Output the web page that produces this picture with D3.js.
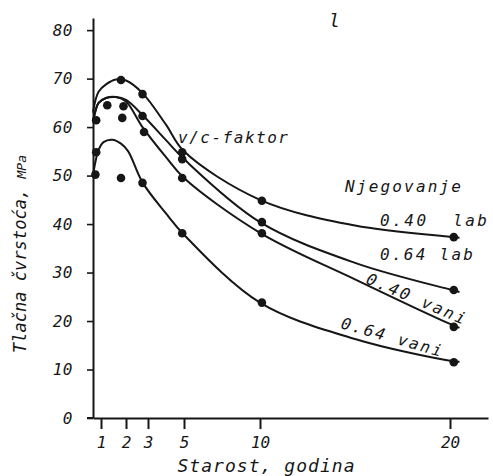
<!DOCTYPE html>
<html>
<head>
<meta charset="utf-8">
<script src="https://cdn.jsdelivr.net/npm/d3@7"></script>
<style>
  body { margin: 0; background: #fff; }
  text { font-family: "DejaVu Sans Mono", monospace; font-style: oblique; fill: #161616; }
</style>
</head>
<body>
<div id="chart"></div>
<script>
// tick labels
const xTicks = [1, 2, 3, 5, 10, 20]
const yTicks = [0, 10, 20, 30, 40, 50, 60, 70, 80]

// fitted curves: age (years) and strength (MPa)
const curveAges = [0, 0.3, 0.7, 1.2, 1.6, 2.0, 2.75, 4, 5, 10, 15, 20, 20.5]
const fitLab40  = [63, 65.5, 67.3, 68.8, 69.8, 69.6, 67, 60.5, 55, 45, 39.7, 37.4, 37.2]
const fitLab64  = [61, 63.3, 65, 66, 66.2, 65.6, 62.5, 57.3, 53.4, 40.4, 32, 26.5, 26]
const fitVani40 = [61, 63.3, 65, 66, 66.2, 65.3, 60, 53.8, 49.5, 38.2, 28.6, 19.4, 18.6]
const vaniAges  = [0, 0.3, 0.7, 1.1, 1.45, 1.8, 2.1, 2.75, 4, 5, 10, 15, 20, 20.5]
const fitVani64 = [50, 52.8, 55.3, 56.9, 57.4, 56.6, 55, 48.6, 42.2, 37.8, 23.8, 16.3, 11.8, 11.6]

// measured points
const ptLab40Age  = [0.4, 1.8, 2.75, 4.9, 10.1, 20.2]
const ptLab40     = [61.4, 69.7, 66.8, 54.8, 44.8, 37.3]
const ptLab64Age  = [1.25, 1.85, 2.75, 4.9, 10.1, 20.2]
const ptLab64     = [64.5, 61.9, 62.3, 53.4, 40.4, 26.4]
const ptVani40Age = [1.9, 2.82, 4.9, 10.1, 20.2]
const ptVani40    = [64.3, 59.0, 49.5, 38.1, 18.8]
const ptVani64Age = [0.3, 0.4, 1.8, 2.75, 4.9, 10.1, 20.2]
const ptVani64    = [50.2, 54.8, 49.5, 48.5, 38.1, 23.8, 11.5]

const width = 493, height = 476

const svg = d3.select("#chart").append("svg")
    .attr("width", width)
    .attr("height", height)

// the age axis of the original is not evenly spaced
const xScale = d3.scaleLinear()
    .domain([0, 1, 2, 3, 5, 10, 20, 22])
    .range([93, 101, 126, 148, 184, 260, 450, 488])
const yScale = d3.scaleLinear()
    .domain([0, 82.5])
    .range([418, 18])

const ink = "#161616"

// axes
const xAxis = svg.append("g")
    .attr("transform", "translate(0,418)")
    .call(d3.axisBottom(xScale).tickValues(xTicks).tickSize(11).tickSizeOuter(0).tickPadding(8))
xAxis.select(".domain").attr("stroke", ink).attr("stroke-width", 2)
xAxis.selectAll(".tick line").attr("stroke", ink).attr("stroke-width", 2)
xAxis.selectAll(".tick text")
    .attr("font-size", 16)
    .attr("font-family", null)

const yAxis = svg.append("g")
    .attr("transform", "translate(93,0)")
    .call(d3.axisLeft(yScale).tickValues(yTicks).tickSize(6).tickSizeOuter(0).tickPadding(14))
yAxis.select(".domain").attr("stroke", ink).attr("stroke-width", 2)
yAxis.selectAll(".tick line").attr("stroke", ink).attr("stroke-width", 1.6)
yAxis.selectAll(".tick text")
    .attr("font-size", 16)
    .attr("font-family", null)
    .attr("letter-spacing", 0.5)

// small overhang of the x axis to the left of the y axis
svg.append("line")
    .attr("x1", 87).attr("x2", 93)
    .attr("y1", yScale(0)).attr("y2", yScale(0))
    .attr("stroke", ink).attr("stroke-width", 2)

// axis titles
svg.append("text")
    .attr("x", 266).attr("y", 472)
    .attr("text-anchor", "middle")
    .attr("font-size", 18)
    .attr("textLength", 177)
    .text("Starost, godina")

const yLab = svg.append("text")
    .attr("transform", "translate(26,254) rotate(-90)")
    .attr("text-anchor", "middle")
    .attr("font-size", 17)
    .attr("textLength", 198)
yLab.append("tspan").text("Tlačna čvrstoća, ")
yLab.append("tspan").attr("font-size", 13).text("MPa")

// curves
const line = d3.line()
    .x(d => xScale(d[0]))
    .y(d => yScale(d[1]))
    .curve(d3.curveCatmullRom.alpha(0.5))

const curves = [
    d3.zip(curveAges, fitLab40),
    d3.zip(curveAges, fitLab64),
    d3.zip(curveAges, fitVani40),
    d3.zip(vaniAges, fitVani64)
]

svg.selectAll("path.fit")
    .data(curves)
    .enter().append("path")
    .attr("class", "fit")
    .attr("d", line)
    .attr("fill", "none")
    .attr("stroke", ink)
    .attr("stroke-width", 2)

// measured points
const points = [].concat(
    d3.zip(ptLab40Age, ptLab40),
    d3.zip(ptLab64Age, ptLab64),
    d3.zip(ptVani40Age, ptVani40),
    d3.zip(ptVani64Age, ptVani64)
)

svg.selectAll("circle")
    .data(points)
    .enter().append("circle")
    .attr("cx", d => xScale(d[0]))
    .attr("cy", d => yScale(d[1]))
    .attr("r", 4.3)
    .attr("fill", ink)

// annotations
svg.append("text")
    .attr("x", 178).attr("y", 143)
    .attr("font-size", 16)
    .attr("textLength", 110)
    .text("v/c-faktor")

svg.append("text")
    .attr("x", 345).attr("y", 192)
    .attr("font-size", 16)
    .attr("textLength", 116)
    .text("Njegovanje")

svg.append("text")
    .attr("x", 380).attr("y", 226)
    .attr("font-size", 16)
    .attr("textLength", 107)
    .style("white-space", "pre")
    .text("0.40  lab")

svg.append("text")
    .attr("x", 380).attr("y", 260)
    .attr("font-size", 16)
    .attr("textLength", 93)
    .text("0.64 lab")

svg.append("text")
    .attr("transform", "translate(365,283) rotate(23)")
    .attr("font-size", 16)
    .attr("textLength", 106)
    .text("0.40 vani")

svg.append("text")
    .attr("transform", "translate(340,328) rotate(16)")
    .attr("font-size", 16)
    .attr("textLength", 104)
    .text("0.64 vani")

svg.append("text")
    .attr("x", 329).attr("y", 27)
    .attr("font-size", 18)
    .attr("font-family", "Liberation Sans")
    .style("font-style", "italic")
    .text("l")
</script>
</body>
</html>
